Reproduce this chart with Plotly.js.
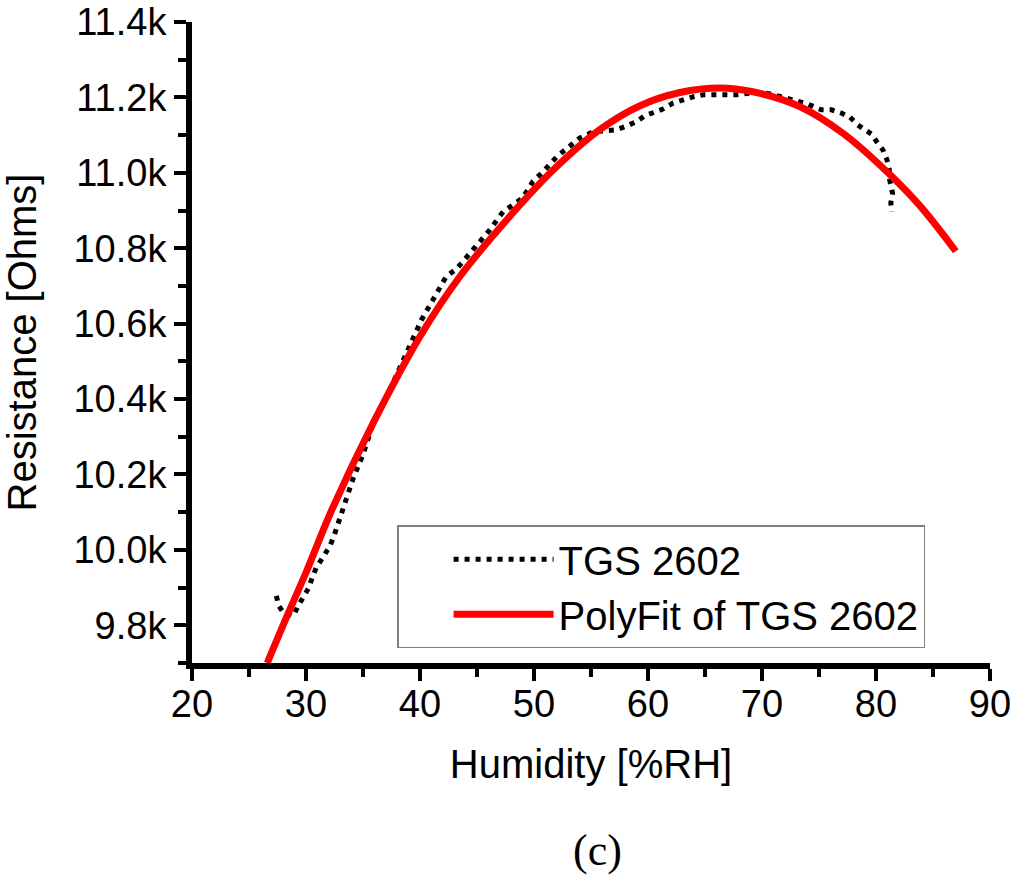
<!DOCTYPE html>
<html>
<head>
<meta charset="utf-8">
<script src="https://cdn.plot.ly/plotly-3.0.1.min.js"></script>
<style>
  html, body { margin: 0; padding: 0; background: #ffffff; }
  #chart { width: 1024px; height: 884px; }
</style>
</head>
<body>
<div id="chart"></div>
<script>
// ---- data ----
const sensorName = "TGS 2602";
const fitName = "PolyFit of TGS 2602";

const humidityMeasured = [27.4, 27.6, 28.0, 28.9, 29.3, 29.75, 30.2, 30.5, 30.9, 31.45, 32.1, 32.5, 32.8, 33.1, 34.15, 35.0, 36.05, 37.1, 37.96, 38.8, 39.7, 40.15, 41.3, 42.3, 43.2, 44.5, 46.0, 47.3, 48.2, 49.0, 49.9, 50.8, 52.0, 53.2, 54.0, 55.2, 56.4, 57.2, 58.2, 59.0, 59.7, 60.6, 61.3, 62.2, 63.1, 64.0, 64.85, 65.9, 66.9, 67.8, 69.4, 70.4, 71.4, 72.2, 73.1, 74.05, 75.2, 76.1, 77.0, 77.7, 78.4, 79.0, 79.6, 80.05, 80.6, 80.97, 81.15, 81.2, 81.45, 81.3, 81.37];
const resistanceMeasured = [9878, 9852, 9834, 9825, 9851, 9873, 9897, 9922, 9953, 9979, 10010, 10041, 10068, 10100, 10191, 10253, 10350, 10408, 10465, 10522, 10580, 10611, 10672, 10725, 10745, 10789, 10844, 10897, 10915, 10933, 10977, 11003, 11043, 11074, 11092, 11109, 11114, 11114, 11125, 11136, 11151, 11162, 11169, 11185, 11195, 11202, 11207, 11208, 11207, 11207, 11213, 11211, 11204, 11198, 11192, 11182, 11167, 11167, 11158, 11148, 11127, 11114, 11103, 11083, 11061, 11034, 11012, 10981, 10946, 10920, 10897];

const humidityFit = [26.6, 28.2, 30.0, 32.25, 35.9, 40.0, 43.5, 47.6, 51.7, 55.8, 59.3, 62.8, 66.3, 69.2, 73.3, 77.1, 81.1, 83.9, 87.0];
const resistanceFit = [9700, 9815, 9940, 10105, 10337, 10566, 10725, 10875, 11008, 11115, 11178, 11213, 11225, 11215, 11176, 11105, 10999, 10911, 10792];

const xTickVals = [20, 30, 40, 50, 60, 70, 80, 90];
const xTickText = ["20", "30", "40", "50", "60", "70", "80", "90"];
const yTickVals = [9800, 10000, 10200, 10400, 10600, 10800, 11000, 11200, 11400];
const yTickText = ["9.8k", "10.0k", "10.2k", "10.4k", "10.6k", "10.8k", "11.0k", "11.2k", "11.4k"];
const xRange = [20, 90];
const yRange = [9700, 11400];
const xTitle = "Humidity [%RH]";
const yTitle = "Resistance [Ohms]";
const panelLabel = "(c)";

// ---- styling ----
const FONT = "Liberation Sans, Arial, Helvetica, sans-serif";
const AX_W = 6, TICK_W = 4, MAJ = 12, MIN = 8;

const traces = [
  {
    x: humidityMeasured, y: resistanceMeasured, name: sensorName,
    type: "scatter", mode: "lines",
    line: { color: "#000000", width: 5, dash: "5px,6px" },
    hoverinfo: "skip"
  },
  {
    x: humidityFit, y: resistanceFit, name: fitName,
    type: "scatter", mode: "lines",
    line: { color: "#ff0000", width: 7, shape: "spline", smoothing: 1 },
    hoverinfo: "skip"
  }
];

function baseAxis(extra) {
  return Object.assign({
    showline: true, linecolor: "#000000", linewidth: AX_W,
    showgrid: false, zeroline: false,
    tickcolor: "#000000", tickwidth: TICK_W,
    fixedrange: true
  }, extra);
}

const layout = {
  width: 1024, height: 884,
  paper_bgcolor: "#ffffff", plot_bgcolor: "#ffffff",
  margin: { l: 192, r: 34, t: 22, b: 221, pad: 0 },
  font: { family: FONT, color: "#000000" },
  showlegend: true,
  legend: {
    x: 0.257, y: 0.215, xanchor: "left", yanchor: "top",
    bgcolor: "#ffffff", bordercolor: "#808080", borderwidth: 1.5,
    font: { family: FONT, size: 40, color: "#000000" },
    itemwidth: 100, indentation: 50, tracegroupgap: 0
  },
  xaxis: baseAxis({
    range: xRange, autorange: false, side: "bottom", anchor: "y",
    tickmode: "array", tickvals: xTickVals, ticktext: xTickText,
    ticks: "outside", ticklen: MAJ, ticklabelstandoff: -10,
    minor: { ticks: "outside", ticklen: MIN, tickwidth: TICK_W, tickcolor: "#000000", dtick: 5, tick0: 20 },
    tickfont: { family: FONT, size: 38 },
    title: { text: xTitle, font: { family: FONT, size: 40 }, standoff: 28 }
  }),
  xaxis2: baseAxis({
    range: xRange, autorange: false, side: "top", anchor: "y", overlaying: "x",
    tickmode: "array", tickvals: xTickVals, showticklabels: false,
    ticks: "inside", ticklen: MAJ,
    minor: { ticks: "inside", ticklen: MIN, tickwidth: TICK_W, tickcolor: "#000000", dtick: 5, tick0: 20 }
  }),
  yaxis: baseAxis({
    range: yRange, autorange: false, side: "left", anchor: "x",
    tickmode: "array", tickvals: yTickVals, ticktext: yTickText,
    ticks: "outside", ticklen: MAJ,
    minor: { ticks: "outside", ticklen: MIN, tickwidth: TICK_W, tickcolor: "#000000", dtick: 100, tick0: 9700 },
    tickfont: { family: FONT, size: 38 },
    title: { text: yTitle, font: { family: FONT, size: 40 }, standoff: 28 }
  }),
  yaxis2: baseAxis({
    range: yRange, autorange: false, side: "right", anchor: "x", overlaying: "y",
    tickmode: "array", tickvals: yTickVals, showticklabels: false,
    ticks: "inside", ticklen: MAJ,
    minor: { ticks: "inside", ticklen: MIN, tickwidth: TICK_W, tickcolor: "#000000", dtick: 100, tick0: 9700 }
  }),
  annotations: [
    {
      text: panelLabel, xref: "paper", yref: "paper",
      x: 0.508, y: -0.292, xanchor: "center", yanchor: "middle",
      showarrow: false,
      font: { family: "Liberation Serif, Times New Roman, serif", size: 44, color: "#000000" }
    }
  ]
};

Plotly.newPlot("chart", traces, layout, { staticPlot: true, displayModeBar: false });
</script>
</body>
</html>
